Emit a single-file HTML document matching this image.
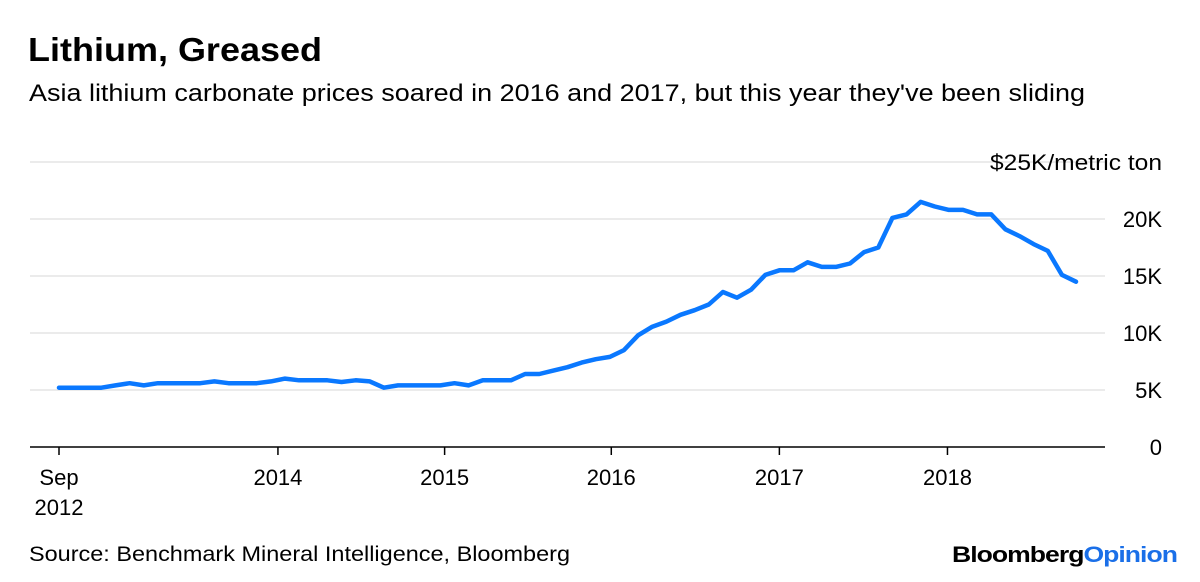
<!DOCTYPE html>
<html><head><meta charset="utf-8"><style>
body{margin:0;background:#fff;font-family:"Liberation Sans",Arial,sans-serif;}
#wrap{position:relative;width:1200px;height:582px;overflow:hidden;}
</style></head><body>
<div id="wrap">
<svg id="c" width="1200" height="582" xmlns="http://www.w3.org/2000/svg">
<text x="28" y="61" font-size="33" font-weight="bold" fill="#000" textLength="294" lengthAdjust="spacingAndGlyphs">Lithium, Greased</text>
<text x="29" y="101" font-size="24" fill="#000" textLength="1056" lengthAdjust="spacingAndGlyphs">Asia lithium carbonate prices soared in 2016 and 2017, but this year they've been sliding</text>
<text x="29" y="561" font-size="21" fill="#000" textLength="541" lengthAdjust="spacingAndGlyphs">Source: Benchmark Mineral Intelligence, Bloomberg</text>
<text x="952" y="562" font-size="22" font-weight="bold" textLength="225" lengthAdjust="spacingAndGlyphs" letter-spacing="-0.8"><tspan fill="#000">Bloomberg</tspan><tspan fill="#1a6fe8">Opinion</tspan></text>
<g id="grid"></g><g id="xaxis"></g><g id="series"></g>
</svg>
</div>
<script>
const yTicks=[0,5,10,15,20,25];
const yTickLabels=["0","5K","10K","15K","20K","$25K/metric ton"];
const xTickPos=[0,15.5,27.3,39.1,51.0,62.9];
const xTickLabels=["Sep","2014","2015","2016","2017","2018"];
const prices=[5.2,5.2,5.2,5.2,5.4,5.6,5.4,5.6,5.6,5.6,5.6,5.75,5.6,5.6,5.6,5.75,6.0,5.85,5.85,5.85,5.7,5.85,5.75,5.2,5.4,5.4,5.4,5.4,5.6,5.4,5.85,5.85,5.85,6.4,6.4,6.7,7.0,7.4,7.7,7.9,8.5,9.8,10.55,11.0,11.6,12.0,12.5,13.6,13.1,13.8,15.1,15.5,15.5,16.2,15.8,15.8,16.1,17.1,17.5,20.1,20.4,21.5,21.1,20.8,20.8,20.4,20.4,19.1,18.5,17.8,17.2,15.1,14.5];
const NS="http://www.w3.org/2000/svg";
const y=v=>447-v*11.4;
const x=i=>59+i*(1076-59)/72;
function mk(t,a,p){const e=document.createElementNS(NS,t);for(const k in a)e.setAttribute(k,a[k]);p.appendChild(e);return e;}
const g=document.getElementById('grid');
yTicks.forEach((v,k)=>{
  if(v>0){const l=mk('line',{x1:30,x2:1105,y1:y(v),y2:y(v),stroke:'#ebebeb','stroke-width':2},g);
  
  }
  const a={x:1162,y:y(v)+8,'font-size':22,'text-anchor':'end',fill:'#000'};
  if(k===5){a.textLength=172;a.lengthAdjust='spacingAndGlyphs';}
  const t=mk('text',a,g);
  t.textContent=yTickLabels[k];
  
  
});
const xa=document.getElementById('xaxis');
const base=mk('line',{x1:30,x2:1105,y1:447,y2:447,stroke:'#000','stroke-width':1.5},xa);


xTickPos.forEach((p,k)=>{
  const tk=mk('line',{x1:x(p),x2:x(p),y1:447,y2:455,stroke:'#000','stroke-width':1.5},xa);
  
  
  const t=mk('text',{x:x(p),y:485,'font-size':22,'text-anchor':'middle',fill:'#000'},xa);
  t.textContent=xTickLabels[k];
  
  
});
const t2=mk('text',{x:x(0),y:515,'font-size':22,'text-anchor':'middle',fill:'#000'},xa);
t2.textContent='2012';


const s=document.getElementById('series');
const d=prices.map((v,i)=>(i?'L':'M')+x(i).toFixed(1)+','+y(v).toFixed(1)).join(' ');
const path=mk('path',{d:d,fill:'none',stroke:'#0a78ff','stroke-width':4.5,'stroke-linejoin':'round','stroke-linecap':'round'},s);


</script>
</body></html>
